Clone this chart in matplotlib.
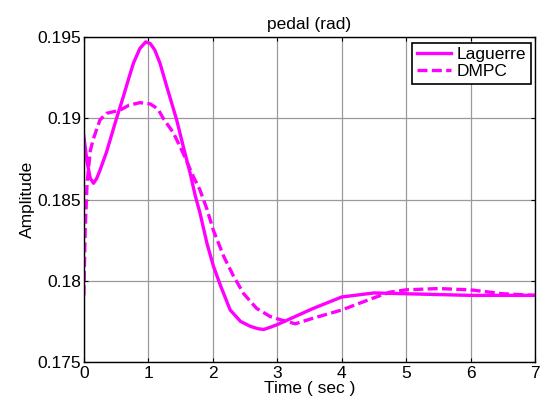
import matplotlib
matplotlib.use('Agg')
import matplotlib.pyplot as plt

# --- Data
t_lag = [0, 0.05, 0.1, 0.15, 0.2, 0.25, 0.35, 0.5, 0.61, 0.7, 0.77, 0.87, 0.96, 1.03,
         1.1, 1.18, 1.29, 1.44, 1.54, 1.65, 1.73, 1.80, 1.91, 2.01, 2.12, 2.27, 2.43,
         2.58, 2.7, 2.79, 2.9, 3.0, 3.28, 3.56, 4.0, 4.5, 5.0, 5.5, 6.0, 6.5, 7.0]
laguerre = [0.1889, 0.1873, 0.1863, 0.1860, 0.1863, 0.1868, 0.1879, 0.1899, 0.1913,
            0.1925, 0.1934, 0.1943, 0.1947, 0.1946, 0.1942, 0.1934, 0.1919, 0.1899,
            0.1883, 0.1866, 0.1852, 0.1842, 0.1823, 0.1809, 0.1797, 0.1782, 0.1775,
            0.1772, 0.17705, 0.1770, 0.17715, 0.1773, 0.1778, 0.1783, 0.1790,
            0.17925, 0.1792, 0.17915, 0.1791, 0.1791, 0.1791]

t_dmpc = [0, 0.02, 0.05, 0.1, 0.145, 0.25, 0.35, 0.56, 0.7, 0.87, 1.03, 1.1, 1.16,
          1.23, 1.39, 1.54, 1.70, 1.80, 1.91, 2.01, 2.17, 2.32, 2.48, 2.68, 2.89,
          3.05, 3.28, 3.56, 4.0, 4.5, 4.75, 5.0, 5.5, 6.0, 6.5, 7.0]
dmpc = [0.1791, 0.1830, 0.1860, 0.1880, 0.1887, 0.1899, 0.1903, 0.1905, 0.1908,
        0.19096, 0.19088, 0.1907, 0.1905, 0.1900, 0.1891, 0.18785, 0.1864, 0.1856,
        0.1844, 0.1831, 0.1815, 0.1803, 0.1792, 0.1783, 0.1778, 0.1776, 0.17735,
        0.1777, 0.1782, 0.17895, 0.1793, 0.17944, 0.17952, 0.17944, 0.1792, 0.1791]

x_ticks = [0, 1, 2, 3, 4, 5, 6, 7]
y_ticks = [0.175, 0.18, 0.185, 0.19, 0.195]
y_tick_labels = ['0.175', '0.18', '0.185', '0.19', '0.195']

# --- Plot setup
plt.rcParams['font.family'] = ['Liberation Sans', 'DejaVu Sans']
FS = 12.5

fig = plt.figure(figsize=(5.41, 4.0), dpi=100)
ax = fig.add_axes([0.155, 0.095, 0.834, 0.8125])

magenta = '#FF00FF'
ax.plot(t_lag, laguerre, color=magenta, lw=2.4, label='Laguerre')
ax.plot(t_dmpc, dmpc, color=magenta, lw=2.4, ls='--', dashes=(3, 1.3), label='DMPC')

ax.set_xlim(0, 7)
ax.set_ylim(0.175, 0.195)
ax.set_xticks(x_ticks)
ax.set_yticks(y_ticks)
ax.set_yticklabels(y_tick_labels)
ax.tick_params(direction='in', length=3, top=True, right=True, labelsize=FS, pad=2)
ax.tick_params(axis='x', pad=3)
ax.grid(True, color='#9a9a9a', lw=0.9)
for s in ax.spines.values():
    s.set_linewidth(1.0)

ax.set_title('pedal (rad)', fontsize=FS, pad=6)
ax.set_xlabel('Time ( sec )', fontsize=FS, labelpad=0)
ax.set_ylabel('Amplitude', fontsize=FS, labelpad=2)

leg = ax.legend(loc='upper right', bbox_to_anchor=(0.99, 0.982), borderaxespad=0,
                fontsize=FS, fancybox=False, framealpha=1, edgecolor='black',
                handlelength=2.0, handletextpad=0.3, borderpad=0.25, labelspacing=0.1)
leg.get_frame().set_linewidth(1.2)

fig.savefig('out.png', dpi=100)
